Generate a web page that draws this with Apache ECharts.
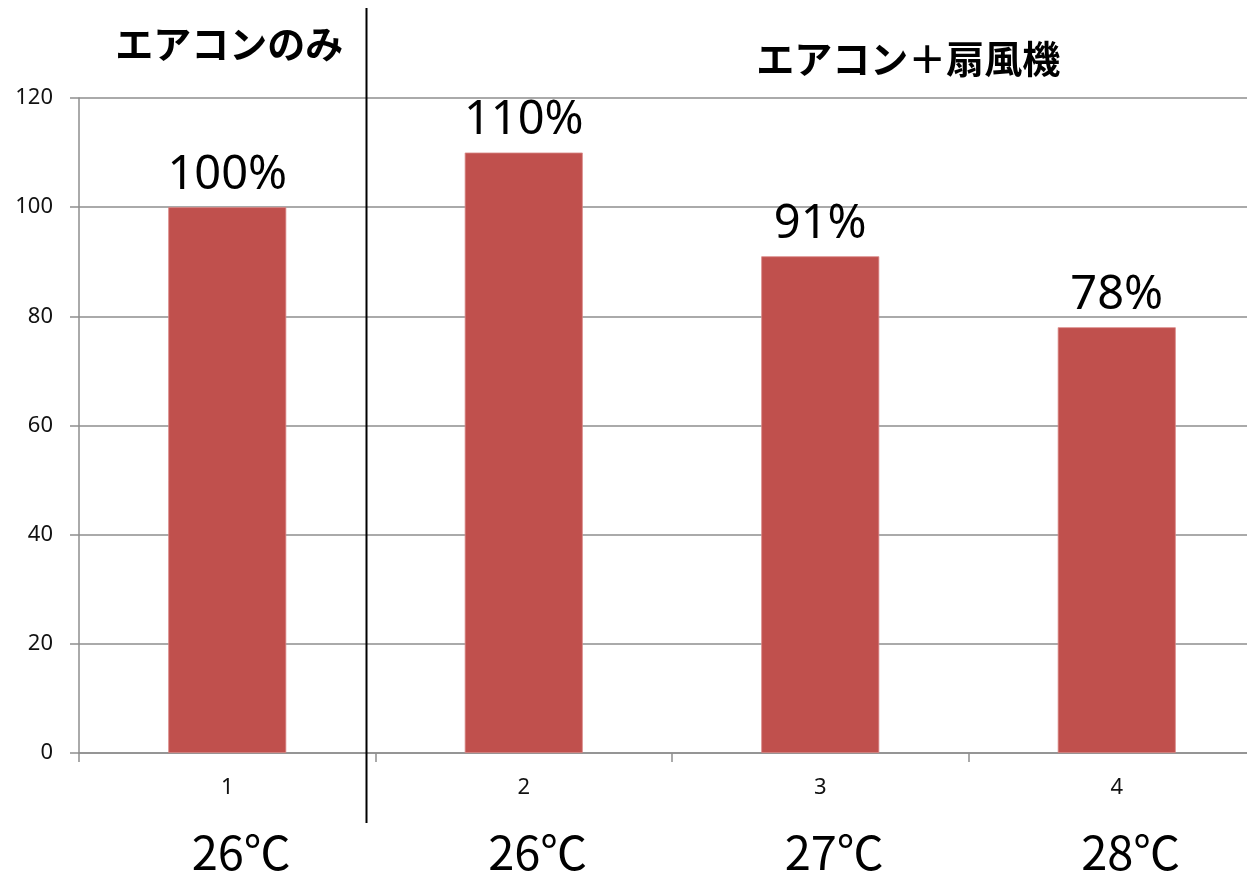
<!DOCTYPE html>
<html>
<head>
<meta charset="utf-8">
<style>
  html, body { margin: 0; padding: 0; background: #fff; }
  #chart { width: 1247px; height: 876px; }
</style>
<script src="https://cdn.jsdelivr.net/npm/echarts@6/dist/echarts.min.js"></script>
</head>
<body>
<div id="chart"></div>
<script>
// Relative energy use per setup
const categories = ['1', '2', '3', '4'];
const values = [100, 110, 91, 78];
const temperatures = ['26℃', '26℃', '27℃', '28℃'];
const groupLabels = ['エアコンのみ', 'エアコン＋扇風機'];
const yTicks = { min: 0, max: 120, interval: 20 };

const chart = echarts.init(document.getElementById('chart'), null, { renderer: 'canvas' });

const gridColor = '#8e8e8e';
const latin = '"Noto Sans", "Open Sans", sans-serif';
const cjk = '"Noto Sans CJK JP", "Noto Sans CJK SC", sans-serif';

chart.setOption({
  animation: false,
  backgroundColor: '#ffffff',
  grid: {
    left: 79, top: 98, width: 1186, height: 655,
    containLabel: false,
    outerBoundsMode: 'none'
  },
  xAxis: {
    type: 'category',
    data: categories,
    axisLine: { lineStyle: { color: gridColor, width: 1.5 } },
    axisTick: { show: true, length: 9, lineStyle: { color: gridColor, width: 1.5 } },
    axisLabel: { color: '#111', fontSize: 22, fontFamily: latin, margin: 24 }
  },
  yAxis: {
    type: 'value',
    min: yTicks.min, max: yTicks.max, interval: yTicks.interval,
    axisLine: { show: true, lineStyle: { color: gridColor, width: 1.5 } },
    axisTick: { show: true, length: 9, lineStyle: { color: gridColor, width: 1.5 } },
    splitLine: { lineStyle: { color: gridColor, width: 1.5 } },
    axisLabel: { color: '#111', fontSize: 22, fontFamily: latin, margin: 26 }
  },
  series: [{
    type: 'bar',
    data: values,
    barWidth: 118,
    itemStyle: { color: '#c0504d', borderColor: '#d98886', borderWidth: 0.8 },
    label: {
      show: true,
      position: 'top',
      distance: 8,
      formatter: '{c}%',
      color: '#000',
      fontSize: 47,
      fontFamily: latin
    }
  }]
});

// Group headers, divider line and temperature labels placed from the axis positions
function decorate() {
  const centers = categories.map((c, i) => chart.convertToPixel({ seriesIndex: 0 }, [i, 0]));
  const elements = [];

  temperatures.forEach((t, i) => {
    elements.push({
      type: 'text',
      x: centers[i][0] + 14,
      y: 852,
      style: {
        text: t, fill: '#000', fontSize: 47, fontFamily: cjk,
        align: 'center', verticalAlign: 'middle'
      }
    });
  });

  elements.push({
    type: 'text', x: centers[0][0] + 2, y: 44,
    style: { text: groupLabels[0], fill: '#000', fontSize: 38, fontWeight: 'bold',
             fontFamily: cjk, align: 'center', verticalAlign: 'middle' }
  });
  elements.push({
    type: 'text', x: centers[2][0] + 88, y: 59,
    style: { text: groupLabels[1], fill: '#000', fontSize: 38, fontWeight: 'bold',
             fontFamily: cjk, align: 'center', verticalAlign: 'middle' }
  });

  const divX = (centers[0][0] + centers[1][0]) / 2 - 9;
  elements.push({
    type: 'line',
    shape: { x1: divX, y1: 8, x2: divX, y2: 823 },
    style: { stroke: '#000', lineWidth: 2 },
    z: 10
  });

  chart.setOption({ graphic: { elements } });
}
decorate();
</script>
</body>
</html>
